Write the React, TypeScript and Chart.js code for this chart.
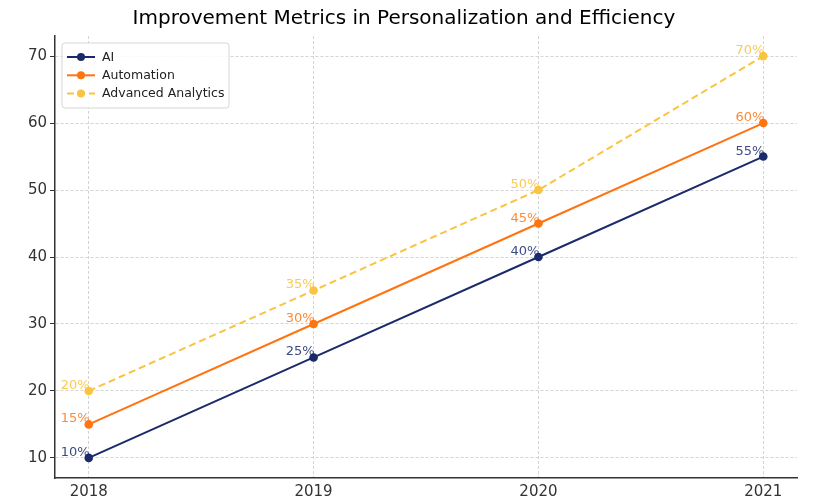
import React, { useEffect, useRef } from "react";
import { Chart, registerables } from "chart.js";

Chart.register(...registerables);

const chartTitle = "Improvement Metrics in Personalization and Efficiency";
const years = [2018, 2019, 2020, 2021];
const seriesNames = ["AI", "Automation", "Advanced Analytics"];
const aiValues = [10, 25, 40, 55];
const automationValues = [15, 30, 45, 60];
const analyticsValues = [20, 35, 50, 70];
const yTickValues = [10, 20, 30, 40, 50, 60, 70];
const seriesColors = ["#1b2a6b", "#ff7410", "#f9c440"];
const labelColors = ["rgba(27,42,107,0.85)", "rgba(255,116,16,0.85)", "rgba(249,196,64,0.9)"];
const FONT = "'DejaVu Sans', sans-serif";

const titlePlugin = {
  id: "customTitle",
  afterDraw(chart: any) {
    const ctx = chart.ctx;
    ctx.save();
    ctx.font = `20px ${FONT}`;
    ctx.fillStyle = "#000";
    ctx.textAlign = "center";
    ctx.textBaseline = "middle";
    ctx.fillText(chartTitle, 404, 19);
    ctx.restore();
  },
};

const valueLabelPlugin = {
  id: "valueLabels",
  afterDatasetsDraw(chart: any) {
    const ctx = chart.ctx;
    ctx.save();
    ctx.font = `13px ${FONT}`;
    ctx.textAlign = "right";
    ctx.textBaseline = "alphabetic";
    chart.data.datasets.forEach((ds: any, i: number) => {
      const meta = chart.getDatasetMeta(i);
      ctx.fillStyle = labelColors[i];
      meta.data.forEach((pt: any, j: number) => {
        ctx.fillText(`${ds.data[j].y}%`, pt.x + 1, pt.y - 2);
      });
    });
    ctx.restore();
  },
};

const legendPlugin = {
  id: "customLegend",
  afterDatasetsDraw(chart: any) {
    const ctx = chart.ctx;
    const x = 62, y = 43, w = 167, h = 65, r = 3;
    ctx.save();
    ctx.beginPath();
    ctx.moveTo(x + r, y);
    ctx.arcTo(x + w, y, x + w, y + h, r);
    ctx.arcTo(x + w, y + h, x, y + h, r);
    ctx.arcTo(x, y + h, x, y, r);
    ctx.arcTo(x, y, x + w, y, r);
    ctx.closePath();
    ctx.fillStyle = "rgba(255,255,255,0.85)";
    ctx.fill();
    ctx.strokeStyle = "#d6d6d6";
    ctx.lineWidth = 1;
    ctx.stroke();
    chart.data.datasets.forEach((ds: any, i: number) => {
      const rowY = 57 + i * 18.3;
      ctx.strokeStyle = ds.borderColor;
      ctx.lineWidth = 2;
      ctx.setLineDash(ds.borderDash || []);
      ctx.beginPath();
      ctx.moveTo(67, rowY);
      ctx.lineTo(95, rowY);
      ctx.stroke();
      ctx.setLineDash([]);
      ctx.fillStyle = ds.borderColor;
      ctx.beginPath();
      ctx.arc(81, rowY, 4, 0, Math.PI * 2);
      ctx.fill();
      ctx.fillStyle = "#222";
      ctx.font = `12.5px ${FONT}`;
      ctx.textAlign = "left";
      ctx.textBaseline = "middle";
      ctx.fillText(ds.label, 102, rowY + 0.5);
    });
    ctx.restore();
  },
};

function toPoints(values: number[]) {
  return years.map((yr, i) => ({ x: yr, y: values[i] }));
}

export default function App() {
  const ref = useRef<HTMLCanvasElement>(null);
  useEffect(() => {
    document.body.style.margin = "0";
    const allValues = [aiValues, automationValues, analyticsValues];
    const chart = new Chart(ref.current as HTMLCanvasElement, {
      type: "line",
      data: {
        datasets: allValues.map((vals, i) => ({
          label: seriesNames[i],
          data: toPoints(vals),
          borderColor: seriesColors[i],
          backgroundColor: seriesColors[i],
          borderWidth: 2,
          pointRadius: 4.3,
          pointHoverRadius: 4.3,
          pointBorderWidth: 0,
          borderDash: i === 2 ? [7, 4] : [],
          tension: 0,
        })),
      },
      options: {
        animation: false,
        responsive: false,
        layout: { padding: { top: 36, right: 21, left: 0, bottom: 0 } },
        plugins: { legend: { display: false }, title: { display: false }, tooltip: { enabled: false } },
        scales: {
          x: {
            type: "linear",
            min: 2017.85,
            max: 2021.15,
            afterBuildTicks: (s: any) => { s.ticks = years.map((v) => ({ value: v })); },
            afterFit: (s: any) => { s.height = 26; },
            ticks: {
              font: { family: "DejaVu Sans", size: 15 },
              color: "#333",
              padding: 5,
              callback: (v: any) => String(v),
            },
            grid: { color: "#d4d4d4", drawTicks: false, lineWidth: 1 } as any,
            border: { display: true, color: "#333", width: 1.5, dash: [3, 2] } as any,
          },
          y: {
            min: 7,
            max: 73,
            afterBuildTicks: (s: any) => { s.ticks = yTickValues.map((v) => ({ value: v })); },
            afterFit: (s: any) => { s.width = 55; },
            ticks: {
              font: { family: "DejaVu Sans", size: 15 },
              color: "#333",
              padding: 3,
            },
            grid: {
              color: "#d4d4d4",
              lineWidth: 1,
              drawTicks: true,
              tickLength: 5,
              tickColor: "#333",
              tickWidth: 1,
              tickBorderDash: [1, 0],
            } as any,
            border: { display: true, color: "#333", width: 1.5, dash: [3, 2] } as any,
          },
        },
      } as any,
      plugins: [titlePlugin, valueLabelPlugin, legendPlugin],
    });
    return () => chart.destroy();
  }, []);
  return <canvas ref={ref} width={818} height={504} style={{ display: "block" }} />;
}
